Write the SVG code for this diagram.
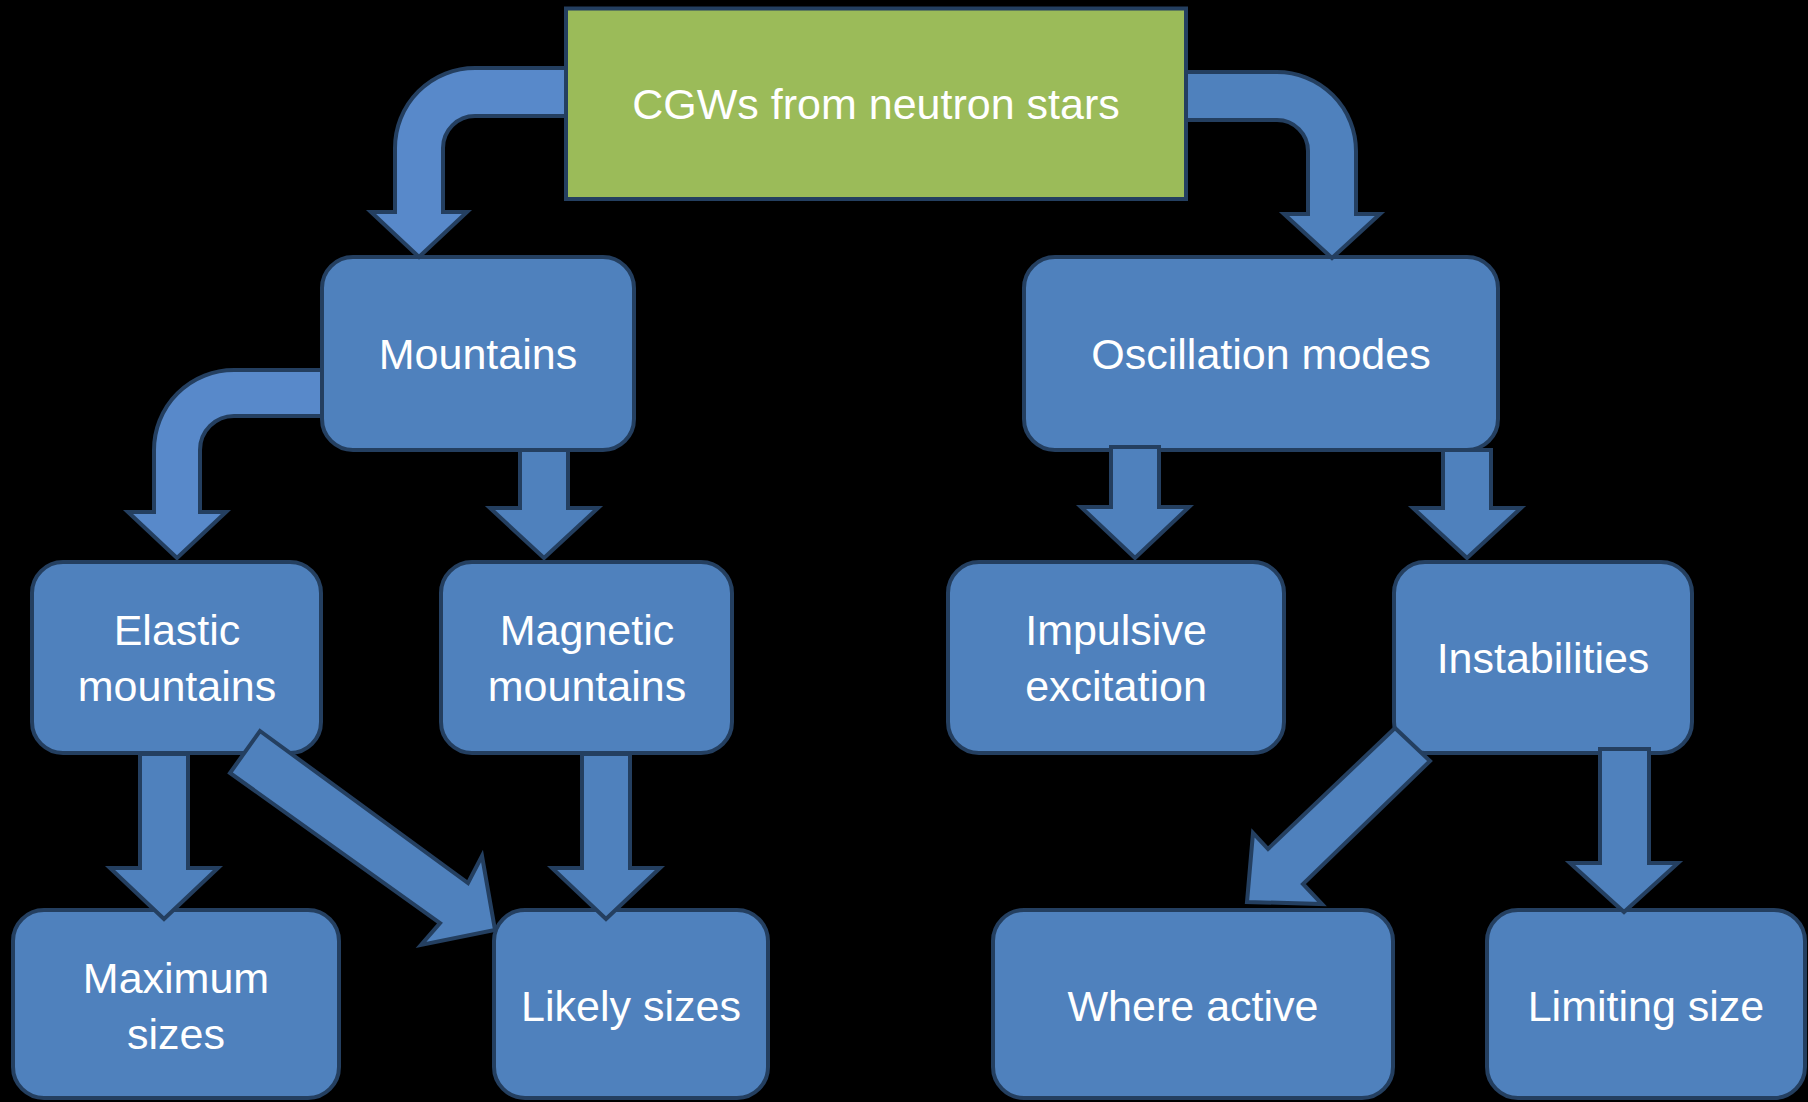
<svg xmlns="http://www.w3.org/2000/svg" width="1808" height="1102" viewBox="0 0 1808 1102">
  <style>
    .node { fill: #4F81BD; stroke: #243F60; stroke-width: 4; }
    .root { fill: #9BBB59; stroke: #243F60; stroke-width: 4; }
    .arrow { fill: #4F81BD; stroke: #243F60; stroke-width: 4; stroke-linejoin: miter; }
    .arrow-light { fill: #5889CA; stroke: #243F60; stroke-width: 4; stroke-linejoin: miter; }
    .label { fill: #FFFFFF; font-family: "Liberation Sans", Arial, sans-serif; font-size: 43px; text-anchor: middle; }
  </style>
  <rect x="0" y="0" width="1808" height="1102" fill="#000000"/>

  <g id="nodes">
    <g id="node-root">
      <rect class="root" x="566" y="8.5" width="620" height="190.5"/>
      <text class="label" x="876" y="119">CGWs from neutron stars</text>
    </g>
    <g id="node-mountains">
      <rect class="node" x="322" y="257" width="312" height="193" rx="31" ry="31"/>
      <text class="label" x="478" y="368.5">Mountains</text>
    </g>
    <g id="node-oscillation">
      <rect class="node" x="1024" y="257" width="474" height="193" rx="31" ry="31"/>
      <text class="label" x="1261" y="368.5">Oscillation modes</text>
    </g>
    <g id="node-elastic">
      <rect class="node" x="32" y="562" width="289" height="191" rx="31" ry="31"/>
      <text class="label" x="177" y="645">Elastic</text>
      <text class="label" x="177" y="701">mountains</text>
    </g>
    <g id="node-magnetic">
      <rect class="node" x="441" y="562" width="291" height="191" rx="31" ry="31"/>
      <text class="label" x="587" y="645">Magnetic</text>
      <text class="label" x="587" y="701">mountains</text>
    </g>
    <g id="node-impulsive">
      <rect class="node" x="948" y="562" width="336" height="191" rx="31" ry="31"/>
      <text class="label" x="1116" y="645">Impulsive</text>
      <text class="label" x="1116" y="701">excitation</text>
    </g>
    <g id="node-instabilities">
      <rect class="node" x="1394" y="562" width="298" height="191" rx="31" ry="31"/>
      <text class="label" x="1543" y="673">Instabilities</text>
    </g>
    <g id="node-maximum">
      <rect class="node" x="13" y="910" width="326" height="188" rx="31" ry="31"/>
      <text class="label" x="176" y="993">Maximum</text>
      <text class="label" x="176" y="1049">sizes</text>
    </g>
    <g id="node-likely">
      <rect class="node" x="494" y="910" width="274" height="188" rx="31" ry="31"/>
      <text class="label" x="631" y="1021">Likely sizes</text>
    </g>
    <g id="node-where">
      <rect class="node" x="993" y="910" width="400" height="188" rx="31" ry="31"/>
      <text class="label" x="1193" y="1021">Where active</text>
    </g>
    <g id="node-limiting">
      <rect class="node" x="1487" y="910" width="318" height="188" rx="31" ry="31"/>
      <text class="label" x="1646" y="1021">Limiting size</text>
    </g>
  </g>

  <g id="connectors">
    <!-- root to Mountains (bent, left) -->
    <path class="arrow-light" d="M566,68 L475,68 A80,80 0 0 0 395,148 L395,212 L371,212 L419,257 L467,212 L443,212 L443,148 A32,32 0 0 1 475,116 L566,116 Z"/>
    <!-- root to Oscillation modes (bent, right) -->
    <path class="arrow" d="M1186,72 L1277,72 A79,79 0 0 1 1356,151 L1356,214 L1380,214 L1332,258 L1284,214 L1308,214 L1308,151 A31,31 0 0 0 1277,120 L1186,120 Z"/>
    <!-- Mountains to Elastic (bent) -->
    <path class="arrow-light" d="M322,370 L234,370 A80,80 0 0 0 154,450 L154,512 L128,512 L177,558 L226,512 L200,512 L200,450 A34,34 0 0 1 234,416 L322,416 Z"/>
    <!-- Mountains to Magnetic -->
    <path class="arrow" d="M520,450 L568,450 L568,508 L598,508 L544,558 L490,508 L520,508 Z"/>
    <!-- Oscillation to Impulsive -->
    <path class="arrow" d="M1111,447 L1159,447 L1159,507 L1189,507 L1135,558 L1081,507 L1111,507 Z"/>
    <!-- Oscillation to Instabilities -->
    <path class="arrow" d="M1443,450 L1491,450 L1491,508 L1521,508 L1467,558 L1413,508 L1443,508 Z"/>
    <!-- Elastic to Maximum -->
    <path class="arrow" d="M140,754 L188,754 L188,868 L218,868 L164,919 L110,868 L140,868 Z"/>
    <!-- Elastic to Likely (diagonal) -->
    <path class="arrow" d="M260,731 L468,883 L482,856 L495,930 L421,945 L440,923 L230,773 Z"/>
    <!-- Magnetic to Likely -->
    <path class="arrow" d="M582,754 L630,754 L630,868 L660,868 L606,919 L552,868 L582,868 Z"/>
    <!-- Instabilities to Where active (diagonal) -->
    <path class="arrow" d="M1395,728 L1430,761 L1303,884 L1322,904 L1247,902 L1253,833 L1268,849 Z"/>
    <!-- Instabilities to Limiting -->
    <path class="arrow" d="M1600,749 L1649,749 L1649,863 L1678,863 L1624,912 L1570,863 L1600,863 Z"/>
  </g>
</svg>
